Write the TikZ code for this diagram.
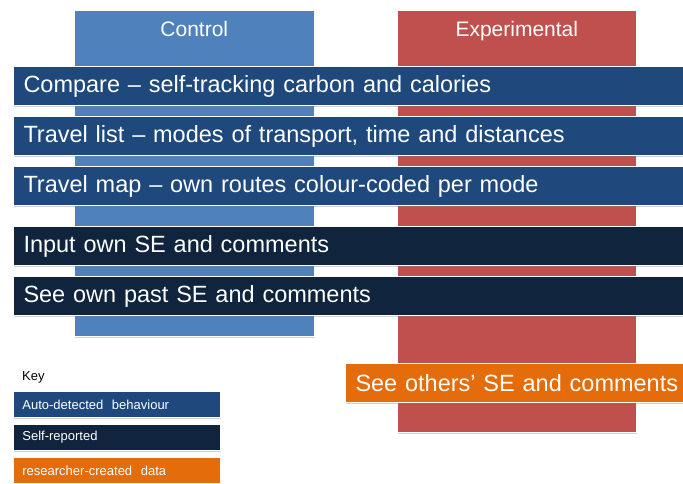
\documentclass[tikz,border=0pt]{standalone}
\usepackage{fontspec}
\setmainfont{Liberation Sans}
\usetikzlibrary{shadows,calc}
\definecolor{ctrlblue}{HTML}{4F81BD}
\definecolor{exptred}{HTML}{C0504D}
\definecolor{autoblue}{HTML}{1F497D}
\definecolor{selfnavy}{HTML}{10243E}
\definecolor{resorange}{HTML}{E46C0A}
\tikzset{
  column/.style={rectangle, draw=white, line width=0.6pt, anchor=north west,
    minimum width=240pt, drop shadow={shadow xshift=0.6pt, shadow yshift=-1.2pt, opacity=0.35}},
  collabel/.style={text=white, font=\fontsize{21}{24}\selectfont, inner sep=0pt, anchor=base},
  bar/.style={rectangle, draw=white, line width=1pt, anchor=north west, text=white,
    minimum height=39pt, text width=650pt, inner xsep=10pt, inner ysep=0pt, align=left,
    font=\fontsize{23.5}{27}\selectfont,
    drop shadow={shadow xshift=0.6pt, shadow yshift=-1.5pt, opacity=0.35}},
  keybox/.style={rectangle, draw=white, line width=0.8pt, anchor=north west, text=white,
    minimum height=26pt, text width=189pt, inner xsep=9pt, inner ysep=0pt, align=left,
    font=\fontsize{13}{15}\selectfont,
    drop shadow={shadow xshift=0.6pt, shadow yshift=-1.2pt, opacity=0.35}},
}
\begin{document}
\begin{tikzpicture}[x=1pt, y=-1pt]
\useasboundingbox (0,0) rectangle (683,484);
\clip (0,0) rectangle (683,484);
\fill[white] (0,0) rectangle (683,484);

% group columns
\node[column, fill=ctrlblue, minimum height=326pt] (ctrl) at (74,10) {};
\node[column, fill=exptred, minimum height=422pt, minimum width=239pt] (expt) at (397,10) {};
\node[collabel] (ctrl-lbl) at ($(ctrl.north)+(0,27)$) {Control};
\node[collabel] (expt-lbl) at ($(expt.north)+(0,27)$) {Experimental};

% features shared by both groups
\node[bar, fill=autoblue] (compare) at (13,66) {Compare -- self-tracking carbon and calories};
\node[bar, fill=autoblue] (list) at (13,116) {Travel list -- modes of transport, time and distances};
\node[bar, fill=autoblue] (map) at (13,166) {Travel map -- own routes colour-coded per mode};
\node[bar, fill=selfnavy] (input) at (13,226) {Input own SE and comments};
\node[bar, fill=selfnavy] (past) at (13,276) {See own past SE and comments};

% experimental-only feature
\node[bar, fill=resorange, text width=380pt] (others) at (345,363) {See others’ SE and comments};

% key
\node[anchor=west, font=\fontsize{13}{15}\selectfont, inner sep=0pt] (key) at (22,377) {Key};
\node[keybox, fill=autoblue] (k-auto) at (13,391) {Auto-detected\ \ behaviour};
\node[keybox, fill=selfnavy] (k-self) at (13,424) {Self-reported};
\node[keybox, fill=resorange] (k-res) at (13,457) {researcher-created\ \ data};
\end{tikzpicture}
\end{document}
